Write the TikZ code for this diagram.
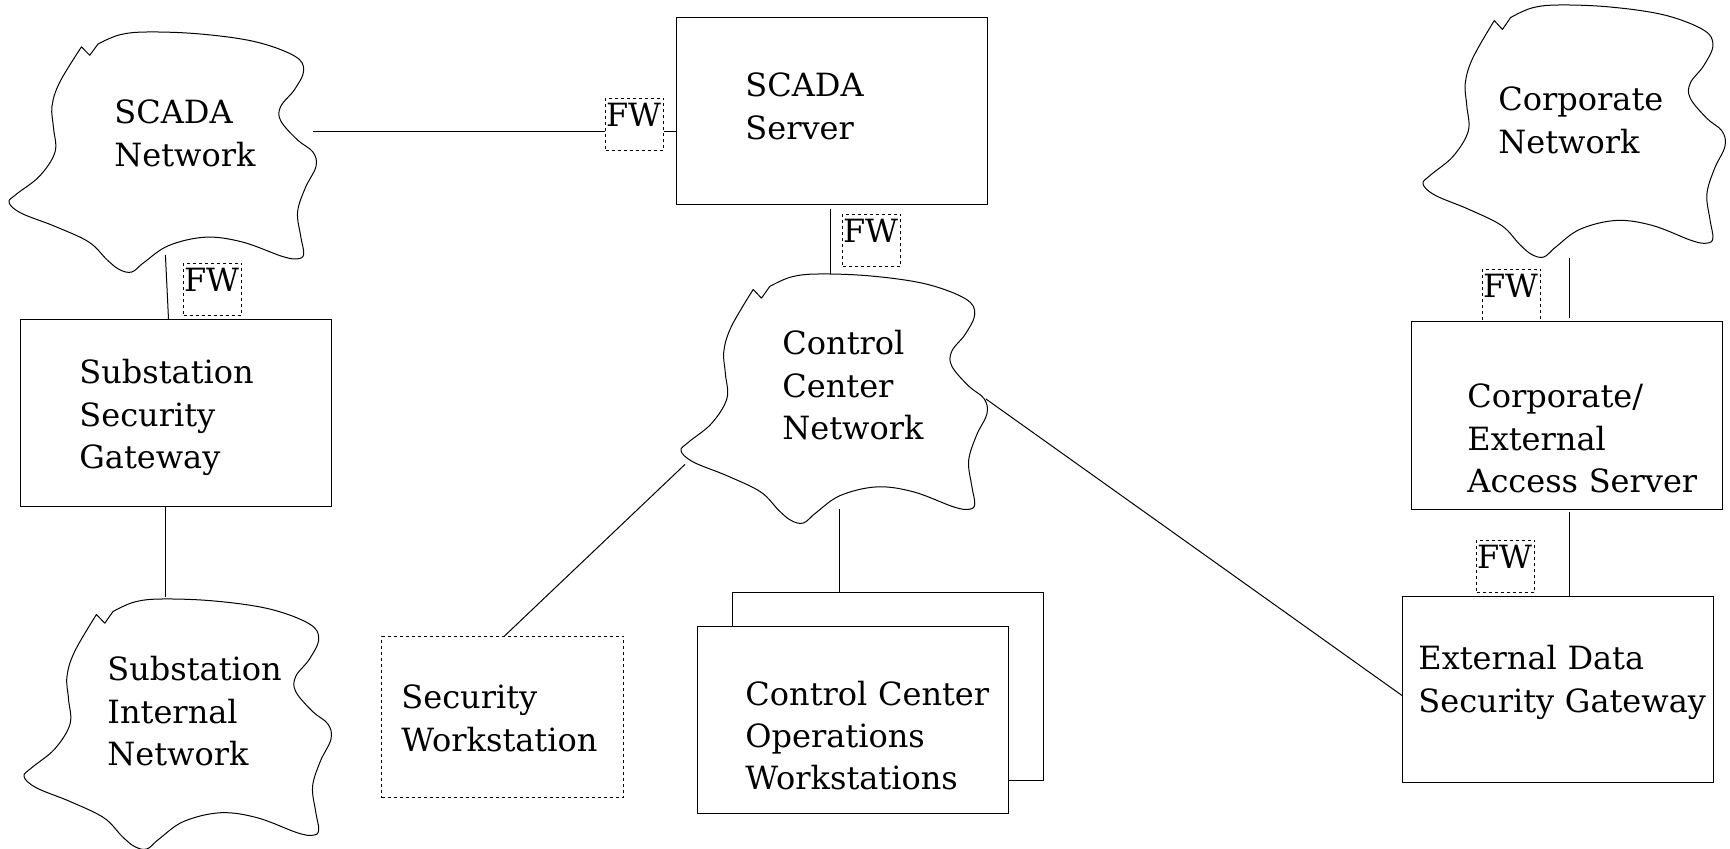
\documentclass[tikz,border=0pt]{standalone}
\usepackage{fontspec}
\setmainfont{DejaVu Serif}
\usetikzlibrary{calc,positioning}
\newcommand{\NetBlob}[3]{%
\begin{scope}[shift={(#1.north west)},x=#2,y=-#3]
  \draw[line width=0.5pt,line join=round] plot[smooth,tension=0.6] coordinates {
    (0.29,0.05) (0.36,0.012) (0.45,0.0) (0.62,0.008) (0.80,0.04) (0.93,0.10) (0.96,0.16)
    (0.93,0.24) (0.885,0.31) (0.885,0.37) (0.94,0.45) (0.99,0.50) (1.0,0.56) (0.965,0.65)
    (0.94,0.75) (0.95,0.85) (0.96,0.925) (0.94,0.945) (0.89,0.935) (0.76,0.875) (0.64,0.855)
    (0.52,0.89) (0.44,0.96) (0.40,1.0) (0.36,0.99) (0.32,0.95) (0.26,0.875) (0.15,0.81)
    (0.04,0.755) (0.0,0.71) (0.025,0.675) (0.10,0.60) (0.15,0.50) (0.145,0.40) (0.14,0.31)
    (0.165,0.21) (0.236,0.062)} -- (0.263,0.097) -- cycle;
\end{scope}}

\begin{document}
\begin{tikzpicture}[x=0.5pt,y=-0.5pt,font=\fontsize{16}{21.25}\selectfont,
  srvbox/.style={draw,line width=0.5pt,anchor=north west,inner sep=0pt,minimum width=155.5pt,minimum height=93.5pt},
  wsbox/.style={srvbox,dash pattern=on 1.5pt off 1.5pt,minimum width=121pt,minimum height=80.5pt},
  fwbox/.style={draw,line width=0.5pt,dash pattern=on 1.5pt off 1.5pt,anchor=north west,inner sep=0.25pt,text width=28.5pt,align=left,text height=14pt,text depth=11.5pt},
  netarea/.style={anchor=north west,inner sep=0pt},
  lbl/.style={anchor=base west,inner sep=0pt,align=left,text width=160pt},
  link/.style={line width=0.5pt}]
\useasboundingbox (0,0) rectangle (1730,849);

% networks
\node[netarea,minimum width=153.5pt,minimum height=120pt] (scadanet) at (9,32) {};
\node[netarea,minimum width=151pt,minimum height=126pt] (corpnet) at (1423,5) {};
\node[netarea,minimum width=153pt,minimum height=124.5pt] (ccnet) at (681,274) {};
\node[netarea,minimum width=153.5pt,minimum height=125pt] (sinet) at (24,599) {};
\NetBlob{scadanet}{153.5pt}{120pt}
\NetBlob{corpnet}{151pt}{126pt}
\NetBlob{ccnet}{153pt}{124.5pt}
\NetBlob{sinet}{153.5pt}{125pt}
\node[lbl] (scadanetlbl) at (114,124) {SCADA\\Network};
\node[lbl] (corpnetlbl) at (1498,111) {Corporate\\Network};
\node[lbl] (ccnetlbl) at (782,355) {Control\\Center\\Network};
\node[lbl] (sinetlbl) at (107,681) {Substation\\Internal\\Network};

% servers and gateways
\node[srvbox] (scadasrv) at (676,17) {};
\node[srvbox] (ssg) at (20,319) {};
\node[srvbox,minimum height=94pt] (ceas) at (1411,321) {};
\node[srvbox,minimum height=93pt] (edsg) at (1402,596) {};
\node[srvbox,minimum height=94pt] (opsback) at (732,592) {};
\node[srvbox,fill=white] (opsfront) at (697,626) {};
\node[wsbox] (secws) at (381,636) {};
\node[lbl] (scadasrvlbl) at (745,97) {SCADA\\Server};
\node[lbl] (ssglbl) at (79,384) {Substation\\Security\\Gateway};
\node[lbl] (ceaslbl) at (1467,408) {Corporate/\\External\\Access Server};
\node[lbl] (edsglbl) at (1418,670) {External Data\\Security Gateway};
\node[lbl] (opslbl) at (745,705) {Control Center\\Operations\\Workstations};
\node[lbl] (secwslbl) at (401,709) {Security\\Workstation};

% firewalls
\node[fwbox] (fwa) at (605,98) {FW};
\node[fwbox] (fwb) at (183,263) {FW};
\node[fwbox] (fwc) at (842,214) {FW};
\node[fwbox] (fwd) at (1482,269) {FW};
\node[fwbox] (fwe) at (1476,540) {FW};

% links
\coordinate (fwain) at ([yshift=-3.5pt]fwa.west);
\coordinate (fwaout) at ([yshift=-3.5pt]fwa.east);
\draw[link] ([xshift=-2pt]fwain -| scadanet.east) -- (fwain);
\draw[link] (fwaout) -- (fwaout -| scadasrv.west);
\draw[link] ([xshift=1.25pt,yshift=9pt]scadanet.south) -- ([xshift=-3.75pt]ssg.north);
\draw[link] ([xshift=-5.25pt]ssg.south) -- ([xshift=-5.25pt,yshift=1pt]ssg.south |- sinet.north);
\draw[link] ([xshift=-0.75pt,yshift=-2pt]scadasrv.south) -- ([xshift=-0.75pt]scadasrv.south |- ccnet.north);
\draw[link] ([xshift=1pt]ceas.north |- corpnet.south) -- ([xshift=1pt,yshift=1.5pt]ceas.north);
\draw[link] ([xshift=1pt,yshift=-1pt]ceas.south) -- ([xshift=1pt]ceas.south |- edsg.north);
\draw[link] ([xshift=-1pt]ccnet.east) -- ([yshift=-3pt]edsg.west);
\draw[link] ([xshift=2pt,yshift=-32.75pt]ccnet.west) -- ([xshift=1pt]secws.north);
\draw[link] ([xshift=2.75pt,yshift=7.5pt]ccnet.south) -- ([xshift=2.75pt]ccnet.south |- opsback.north);
\end{tikzpicture}
\end{document}
